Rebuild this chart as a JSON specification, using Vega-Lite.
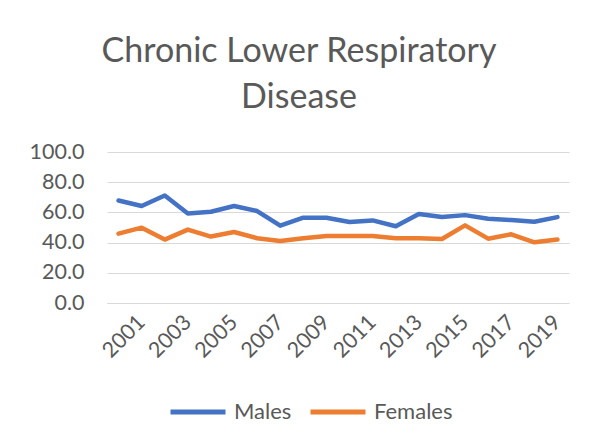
{
  "$schema": "https://vega.github.io/schema/vega-lite/v6.json",
  "width": 462,
  "height": 151,
  "padding": {"left": 29, "top": 35, "right": 20, "bottom": 20},
  "background": "white",
  "title": {
    "text": ["Chronic Lower Respiratory", "Disease"],
    "font": "Lato",
    "fontSize": 34,
    "fontWeight": "normal",
    "color": "#595959",
    "lineHeight": 46,
    "anchor": "middle",
    "frame": "bounds",
    "offset": 26
  },
  "data": {
    "values": [
      {"year": 2000, "sex": "Males", "rate": 67.9},
      {"year": 2001, "sex": "Males", "rate": 64.2},
      {"year": 2002, "sex": "Males", "rate": 71.2},
      {"year": 2003, "sex": "Males", "rate": 59.3},
      {"year": 2004, "sex": "Males", "rate": 60.4},
      {"year": 2005, "sex": "Males", "rate": 64.2},
      {"year": 2006, "sex": "Males", "rate": 60.9},
      {"year": 2007, "sex": "Males", "rate": 51.2},
      {"year": 2008, "sex": "Males", "rate": 56.5},
      {"year": 2009, "sex": "Males", "rate": 56.5},
      {"year": 2010, "sex": "Males", "rate": 53.6},
      {"year": 2011, "sex": "Males", "rate": 54.7},
      {"year": 2012, "sex": "Males", "rate": 50.8},
      {"year": 2013, "sex": "Males", "rate": 58.9},
      {"year": 2014, "sex": "Males", "rate": 56.9},
      {"year": 2015, "sex": "Males", "rate": 58.2},
      {"year": 2016, "sex": "Males", "rate": 55.8},
      {"year": 2017, "sex": "Males", "rate": 54.9},
      {"year": 2018, "sex": "Males", "rate": 53.8},
      {"year": 2019, "sex": "Males", "rate": 56.9},
      {"year": 2000, "sex": "Females", "rate": 45.9},
      {"year": 2001, "sex": "Females", "rate": 49.9},
      {"year": 2002, "sex": "Females", "rate": 42.0},
      {"year": 2003, "sex": "Females", "rate": 48.6},
      {"year": 2004, "sex": "Females", "rate": 44.0},
      {"year": 2005, "sex": "Females", "rate": 47.0},
      {"year": 2006, "sex": "Females", "rate": 42.9},
      {"year": 2007, "sex": "Females", "rate": 41.1},
      {"year": 2008, "sex": "Females", "rate": 42.9},
      {"year": 2009, "sex": "Females", "rate": 44.4},
      {"year": 2010, "sex": "Females", "rate": 44.4},
      {"year": 2011, "sex": "Females", "rate": 44.4},
      {"year": 2012, "sex": "Females", "rate": 42.9},
      {"year": 2013, "sex": "Females", "rate": 42.9},
      {"year": 2014, "sex": "Females", "rate": 42.4},
      {"year": 2015, "sex": "Females", "rate": 51.4},
      {"year": 2016, "sex": "Females", "rate": 42.6},
      {"year": 2017, "sex": "Females", "rate": 45.5},
      {"year": 2018, "sex": "Females", "rate": 40.2},
      {"year": 2019, "sex": "Females", "rate": 42.0}
    ]
  },
  "mark": {"type": "line", "strokeWidth": 4.5, "strokeCap": "round", "strokeJoin": "round"},
  "encoding": {
    "x": {
      "field": "year",
      "type": "ordinal",
      "scale": {"type": "point", "padding": 0.5},
      "axis": {
        "title": null,
        "values": [2001, 2003, 2005, 2007, 2009, 2011, 2013, 2015, 2017, 2019],
        "labelAngle": -45,
        "labelAlign": "right",
        "labelBaseline": "middle",
        "labelFont": "Lato",
        "labelFontSize": 21.5,
        "labelColor": "#595959",
        "labelPadding": 16,
        "ticks": false,
        "domainColor": "#d9d9d9",
        "domainWidth": 1,
        "grid": false
      }
    },
    "y": {
      "field": "rate",
      "type": "quantitative",
      "scale": {"domain": [0, 100]},
      "axis": {
        "title": null,
        "values": [0, 20, 40, 60, 80, 100],
        "format": ".1f",
        "labelFont": "Lato",
        "labelFontSize": 21.5,
        "labelColor": "#595959",
        "labelPadding": 23,
        "ticks": false,
        "domain": false,
        "gridColor": "#d9d9d9",
        "gridWidth": 1
      }
    },
    "color": {
      "field": "sex",
      "type": "nominal",
      "sort": ["Males", "Females"],
      "scale": {"domain": ["Males", "Females"], "range": ["#4472C4", "#ED7D31"]},
      "legend": {
        "title": null,
        "orient": "none",
        "legendX": 61,
        "legendY": 230,
        "direction": "horizontal",
        "symbolType": "stroke",
        "symbolSize": 3025,
        "symbolStrokeWidth": 5,
        "labelFont": "Lato",
        "labelFontSize": 22,
        "labelColor": "#595959",
        "labelOffset": 6,
        "columnPadding": 8
      }
    }
  },
  "config": {
    "view": {"stroke": null}
  }
}
